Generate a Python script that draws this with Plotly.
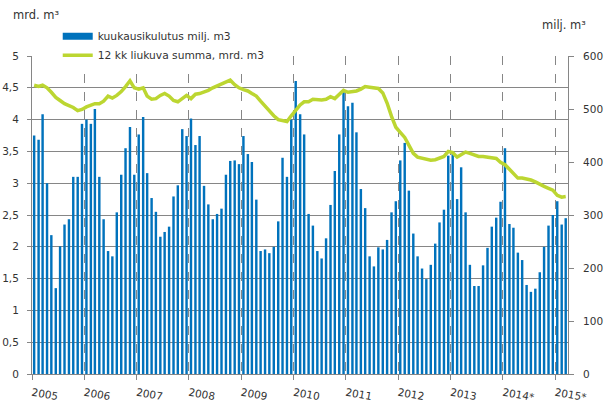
import pandas as pd
import plotly.graph_objects as go

# Monthly consumption, million m3 (Jan 2005 .. Mar 2015)
years = list(range(2005, 2016))
year_labels = ["2005", "2006", "2007", "2008", "2009", "2010", "2011", "2012", "2013", "2014*", "2015*"]

monthly_2005 = [450, 442, 490, 360, 262, 162, 241, 282, 292, 372, 372, 472]
monthly_2006 = [480, 472, 500, 372, 292, 232, 222, 305, 376, 426, 466, 376]
monthly_2007 = [452, 485, 379, 332, 306, 259, 268, 278, 335, 356, 462, 449]
monthly_2008 = [482, 432, 449, 355, 320, 292, 302, 312, 376, 402, 403, 396]
monthly_2009 = [449, 415, 400, 329, 232, 235, 228, 240, 288, 408, 372, 480]
monthly_2010 = [553, 490, 452, 302, 280, 232, 218, 256, 319, 383, 452, 532]
monthly_2011 = [505, 512, 456, 349, 313, 222, 203, 239, 235, 253, 305, 326]
monthly_2012 = [403, 436, 346, 265, 222, 199, 179, 206, 246, 286, 310, 412]
monthly_2013 = [416, 330, 390, 305, 206, 166, 166, 205, 238, 278, 295, 325]
monthly_2014 = [426, 283, 276, 229, 215, 168, 155, 161, 192, 240, 280, 300]
monthly_2015 = [326, 282, 294]

# 12-month rolling sum, billion m3
rolling_2005 = [4.54, 4.52, 4.54, 4.50, 4.43, 4.35, 4.30, 4.25, 4.22, 4.19, 4.14, 4.16]
rolling_2006 = [4.20, 4.23, 4.25, 4.25, 4.29, 4.37, 4.34, 4.38, 4.44, 4.52, 4.61, 4.50]
rolling_2007 = [4.48, 4.50, 4.37, 4.32, 4.33, 4.38, 4.41, 4.37, 4.30, 4.28, 4.33, 4.38]
rolling_2008 = [4.33, 4.40, 4.41, 4.43, 4.46, 4.50, 4.53, 4.57, 4.59, 4.62, 4.55, 4.50]
rolling_2009 = [4.47, 4.45, 4.41, 4.37, 4.29, 4.21, 4.13, 4.06, 4.00, 3.99, 3.97, 4.06]
rolling_2010 = [4.15, 4.23, 4.28, 4.28, 4.32, 4.31, 4.31, 4.32, 4.36, 4.33, 4.40, 4.46]
rolling_2011 = [4.43, 4.44, 4.45, 4.48, 4.52, 4.51, 4.50, 4.49, 4.42, 4.26, 4.05, 3.88]
rolling_2012 = [3.80, 3.72, 3.60, 3.47, 3.41, 3.39, 3.37, 3.36, 3.37, 3.40, 3.42, 3.50]
rolling_2013 = [3.48, 3.41, 3.45, 3.49, 3.47, 3.44, 3.42, 3.42, 3.41, 3.40, 3.39, 3.33]
rolling_2014 = [3.29, 3.22, 3.15, 3.08, 3.08, 3.07, 3.05, 3.02, 2.98, 2.95, 2.92, 2.89]
rolling_2015 = [2.81, 2.78, 2.79]

monthly = (monthly_2005 + monthly_2006 + monthly_2007 + monthly_2008 + monthly_2009 +
           monthly_2010 + monthly_2011 + monthly_2012 + monthly_2013 + monthly_2014 + monthly_2015)
rolling = (rolling_2005 + rolling_2006 + rolling_2007 + rolling_2008 + rolling_2009 +
           rolling_2010 + rolling_2011 + rolling_2012 + rolling_2013 + rolling_2014 + rolling_2015)

month_starts = pd.date_range("2005-01-01", periods=len(monthly), freq="MS")
month_centers = month_starts + pd.Timedelta(days=15)

left_ticks = [0, 0.5, 1, 1.5, 2, 2.5, 3, 3.5, 4, 4.5, 5]
left_ticktext = ["0", "0,5", "1", "1,5", "2", "2,5", "3", "3,5", "4", "4,5", "5"]
right_ticks = [0, 100, 200, 300, 400, 500, 600]

BAR = "#0072BC"
LINE = "#BCD631"
GRID = "#868686"
TXT = "#333333"
FONT = "DejaVu Sans"

fig = go.Figure()
fig.add_trace(go.Bar(
    x=month_centers, y=monthly, name="kuukausikulutus milj. m3",
    marker=dict(color=BAR, line=dict(width=0)),
    width=17 * 24 * 3600 * 1000, yaxis="y", showlegend=False,
))
# legend-only entry so the bar key is drawn as a wide flat block
fig.add_trace(go.Scatter(
    x=[None], y=[None], name="kuukausikulutus milj. m3",
    mode="lines", line=dict(color=BAR, width=7), yaxis="y",
))
fig.add_trace(go.Scatter(
    x=month_centers, y=rolling, name="12 kk liukuva summa, mrd. m3",
    mode="lines", line=dict(color=LINE, width=3.5), yaxis="y2",
))

fig.update_layout(
    width=606, height=416,
    margin=dict(l=32, r=38, t=56, b=42, autoexpand=False),
    paper_bgcolor="white", plot_bgcolor="white",
    font=dict(family=FONT, size=10.5, color=TXT),
    showlegend=True,
    legend=dict(x=0.048, y=1.108, xanchor="left", yanchor="top",
                bgcolor="white", borderwidth=0, tracegroupgap=0,
                font=dict(size=10.7, color=TXT), itemwidth=30),
    xaxis=dict(
        type="date", range=["2005-01-01", "2015-04-01"],
        tickvals=[f"{y}-01-01" for y in years], ticktext=year_labels,
        tickangle=10, ticks="outside", ticklen=5, tickcolor=GRID,
        showgrid=True, gridcolor=GRID, griddash="dash", gridwidth=1,
        showline=True, linecolor=GRID, linewidth=1, automargin=False,
        tickfont=dict(size=10.5, color=TXT), ticklabelstandoff=3,
    ),
    yaxis=dict(
        side="right", range=[0, 600], tickvals=right_ticks,
        showgrid=False, zeroline=False, automargin=False,
        ticks="outside", ticklen=5, tickcolor=GRID,
        showline=True, linecolor=GRID, linewidth=1,
        tickfont=dict(size=10.5, color=TXT), ticklabelstandoff=7,
    ),
    yaxis2=dict(
        overlaying="y", side="left", range=[0, 5],
        tickvals=left_ticks, ticktext=left_ticktext,
        showgrid=True, gridcolor=GRID, gridwidth=1, zeroline=False,
        ticks="outside", ticklen=4, tickcolor=GRID, automargin=False,
        showline=True, linecolor=GRID, linewidth=1,
        tickfont=dict(size=10.5, color=TXT), ticklabelstandoff=6,
    ),
    bargap=0.4,
)

fig.add_annotation(text="mrd. m³", xref="paper", yref="paper", x=-0.039, y=1.13,
                   xanchor="left", yanchor="middle", showarrow=False,
                   font=dict(size=11.5, color=TXT))
fig.add_annotation(text="milj. m³", xref="paper", yref="paper", x=0.948, y=1.097,
                   xanchor="left", yanchor="middle", showarrow=False,
                   font=dict(size=11.5, color=TXT))

fig.write_html("out.html")
